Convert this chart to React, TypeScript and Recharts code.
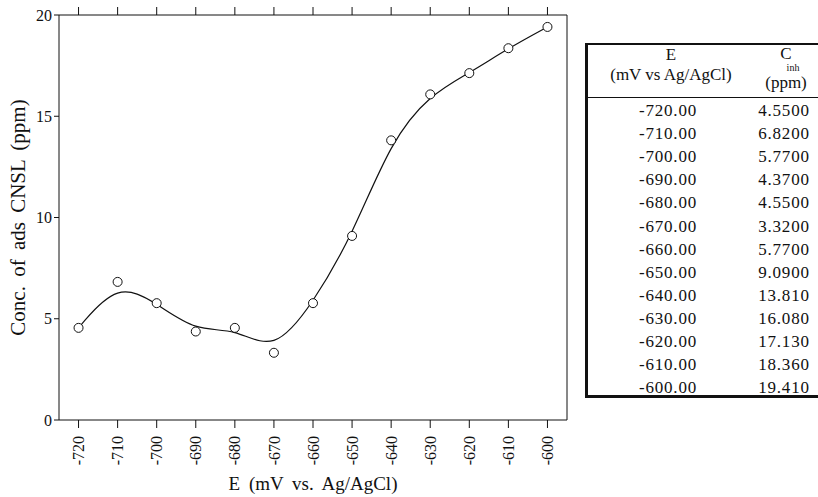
import React from 'react';
import { ComposedChart, Line, XAxis, YAxis } from 'recharts';

// values from the table next to the plot
const potentials = [-720, -710, -700, -690, -680, -670, -660, -650, -640, -630, -620, -610, -600];
const concentrations = [4.55, 6.82, 5.77, 4.37, 4.55, 3.32, 5.77, 9.09, 13.81, 16.08, 17.13, 18.36, 19.41];

const xTicks = [-720, -710, -700, -690, -680, -670, -660, -650, -640, -630, -620, -610, -600];
const yMajorTicks = [0, 5, 10, 15, 20];
const yMinorTicks = [0, 1, 2, 3, 4, 5, 6, 7, 8, 9, 10, 11, 12, 13, 14, 15, 16, 17, 18, 19, 20];

const data = potentials.map((e, i) => ({ e, c: concentrations[i] }));

const FONT = '"Liberation Serif", "DejaVu Serif", serif';

// tick marks only, no label
const NoLabel = () => <g />;

const XTick = (props: any) => {
  const { x, y, payload } = props;
  return (
    <text
      x={x}
      y={y}
      transform={`rotate(-90, ${x}, ${y})`}
      textAnchor="end"
      dy="0.35em"
      fontSize={16}
      fontFamily={FONT}
      fill="#111"
    >
      {payload.value}
    </text>
  );
};

const YTick = (props: any) => {
  const { x, y, payload } = props;
  return (
    <text x={x} y={y} textAnchor="end" dy="0.35em" fontSize={16} fontFamily={FONT} fill="#111">
      {payload.value}
    </text>
  );
};

const App: React.FC = () => {
  const rowTop = 97;
  const rowH = 23.1;

  return (
    <div style={{ position: 'absolute', left: 0, top: 0, width: 818, height: 497, background: '#fff', overflow: 'hidden' }}>
      <ComposedChart
        width={818}
        height={497}
        data={data}
        margin={{ top: 14, right: 250, bottom: 0, left: 0 }}
      >
        <XAxis
          dataKey="e"
          type="number"
          domain={[-725, -595]}
          ticks={xTicks}
          interval={0}
          height={77}
          stroke="#111"
          tickSize={8}
          tickMargin={8}
          tick={<XTick />}
          label={{
            content: (p: any) => (
              <text
                x={p.viewBox.x + p.viewBox.width / 2}
                y={490}
                textAnchor="middle"
                fontSize={19}
                fontFamily={FONT}
                wordSpacing={4}
                fill="#111"
              >
                E (mV vs. Ag/AgCl)
              </text>
            ),
          }}
        />
        <XAxis
          xAxisId="top"
          dataKey="e"
          type="number"
          orientation="top"
          domain={[-725, -595]}
          ticks={xTicks}
          interval={0}
          height={1}
          stroke="#111"
          tickSize={8}
          tick={<NoLabel />}
        />
        <YAxis
          yAxisId="minor"
          type="number"
          domain={[0, 20]}
          ticks={yMinorTicks}
          interval={0}
          width={1}
          stroke="#111"
          axisLine={false}
          tickSize={3}
          tick={<NoLabel />}
        />
        <YAxis
          type="number"
          domain={[0, 20]}
          ticks={yMajorTicks}
          interval={0}
          width={58}
          stroke="#111"
          tickSize={5}
          tickMargin={2}
          tick={<YTick />}
          label={{
            content: (p: any) => {
              const cy = p.viewBox.y + p.viewBox.height / 2;
              return (
                <text
                  x={18}
                  y={cy}
                  transform={`rotate(-90, 18, ${cy})`}
                  textAnchor="middle"
                  dy="0.35em"
                  fontSize={21}
                  fontFamily={FONT}
                  wordSpacing={4}
                  fill="#111"
                >
                  Conc. of ads CNSL (ppm)
                </text>
              );
            },
          }}
        />
        <YAxis
          yAxisId="right"
          orientation="right"
          type="number"
          domain={[0, 20]}
          ticks={yMinorTicks}
          interval={0}
          width={1}
          stroke="#111"
          tickSize={5}
          tick={<NoLabel />}
        />
        <Line
          dataKey="c"
          type="basis"
          stroke="#111"
          strokeWidth={1.2}
          dot={{ r: 4.5, fill: '#fff', stroke: '#111', strokeWidth: 1 }}
          activeDot={false}
          isAnimationActive={false}
        />
      </ComposedChart>

      {/* data table on the right */}
      <div
        style={{
          position: 'absolute',
          left: 585,
          top: 43,
          width: 240,
          height: 350,
          borderTop: '2px solid #111',
          borderLeft: '3px solid #111',
          borderBottom: '3px solid #111',
          fontFamily: FONT,
          color: '#111',
          fontSize: 17,
        }}
      >
        <div style={{ position: 'absolute', left: 0, top: 52, width: 240, borderTop: '1px solid #111' }} />
        <div style={{ position: 'absolute', left: 0, top: 0, width: 166, textAlign: 'center', lineHeight: '20px' }}>
          <div>E</div>
          <div>(mV vs Ag/AgCl)</div>
        </div>
        <div style={{ position: 'absolute', left: 166, top: 0, width: 64, textAlign: 'center' }}>
          <div style={{ lineHeight: '18px' }}>C</div>
          <div style={{ fontSize: 10, lineHeight: '10px', marginLeft: 14 }}>inh</div>
          <div style={{ lineHeight: '20px' }}>(ppm)</div>
        </div>
        {potentials.map((e, i) => (
          <div
            key={e}
            style={{
              position: 'absolute',
              left: 0,
              top: rowTop - 43 + i * rowH,
              width: 232,
              height: rowH,
              lineHeight: `${rowH}px`,
              display: 'flex',
              letterSpacing: 0.8,
            }}
          >
            <div style={{ width: 160, textAlign: 'center' }}>{e.toFixed(2)}</div>
            <div style={{ width: 72, textAlign: 'center' }}>{concentrations[i].toPrecision(5)}</div>
          </div>
        ))}
      </div>
    </div>
  );
};

export default App;
